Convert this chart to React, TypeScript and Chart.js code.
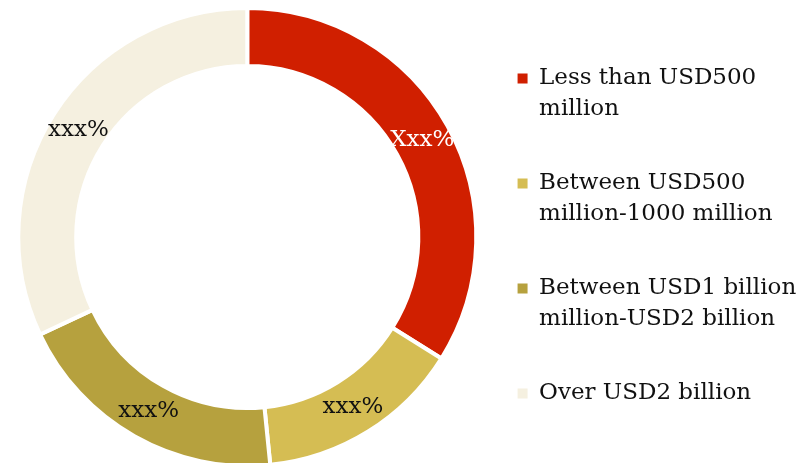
import React, { useEffect, useRef } from 'react';
import { Chart, registerables } from 'chart.js';

Chart.register(...registerables);

const categories = [
  'Less than USD500 million',
  'Between USD500 million-1000 million',
  'Between USD1 billion million-USD2 billion',
  'Over USD2 billion',
];
const legendLines = [
  ['Less than USD500', 'million'],
  ['Between USD500', 'million-1000 million'],
  ['Between USD1 billion ', 'million-USD2 billion'],
  ['Over USD2 billion'],
];
const shares = [33.9, 14.5, 19.6, 32.0];
const sliceLabels = ['Xxx%', 'xxx%', 'xxx%', 'xxx%'];
const sliceLabelColors = ['#ffffff', '#111111', '#111111', '#111111'];
const sliceColors = ['#D01F00', '#D5BD53', '#B6A13E', '#F5F0E0'];

const FONT = '"DejaVu Serif", serif';

const sliceLabelPlugin = {
  id: 'sliceLabels',
  afterDatasetsDraw(chart: any) {
    const meta = chart.getDatasetMeta(0);
    const ctx = chart.ctx;
    ctx.save();
    ctx.font = `23px ${FONT}`;
    ctx.textAlign = 'center';
    ctx.textBaseline = 'middle';
    meta.data.forEach((arc: any, i: number) => {
      const p = arc.tooltipPosition(false);
      ctx.fillStyle = sliceLabelColors[i];
      ctx.fillText(sliceLabels[i], p.x, p.y);
    });
    ctx.restore();
  },
};

export default function App() {
  const canvasRef = useRef<HTMLCanvasElement | null>(null);

  useEffect(() => {
    if (!canvasRef.current) return;
    const chart = new Chart(canvasRef.current, {
      type: 'doughnut',
      data: {
        labels: categories,
        datasets: [
          {
            data: shares,
            backgroundColor: sliceColors,
            borderColor: '#ffffff',
            borderWidth: 4,
          },
        ],
      },
      options: {
        animation: false,
        responsive: true,
        maintainAspectRatio: false,
        radius: 229,
        cutout: '74.7%',
        layout: { padding: { left: 20, top: 11, right: -4.5, bottom: 0 } },
        plugins: {
          tooltip: { enabled: false },
          legend: {
            position: 'right',
            title: { display: true, text: '', padding: 0, font: { size: 6, lineHeight: 1 } },
            labels: {
              boxWidth: 10,
              boxHeight: 10,
              padding: 43,
              color: '#111111',
              font: { family: FONT, size: 23, lineHeight: 31 / 23 },
              generateLabels: () =>
                legendLines.map((lines, i) => ({
                  text: lines,
                  fillStyle: sliceColors[i],
                  strokeStyle: sliceColors[i],
                  lineWidth: 0,
                  fontColor: '#111111',
                  hidden: false,
                  index: i,
                })),
            },
          },
        },
      } as any,
      plugins: [sliceLabelPlugin],
    });
    return () => chart.destroy();
  }, []);

  return (
    <div style={{ position: 'absolute', left: 0, top: 0, width: 809, height: 463, overflow: 'hidden', background: '#fff' }}>
      <div style={{ position: 'relative', width: 809, height: 463 }}>
        <canvas ref={canvasRef} />
      </div>
    </div>
  );
}
